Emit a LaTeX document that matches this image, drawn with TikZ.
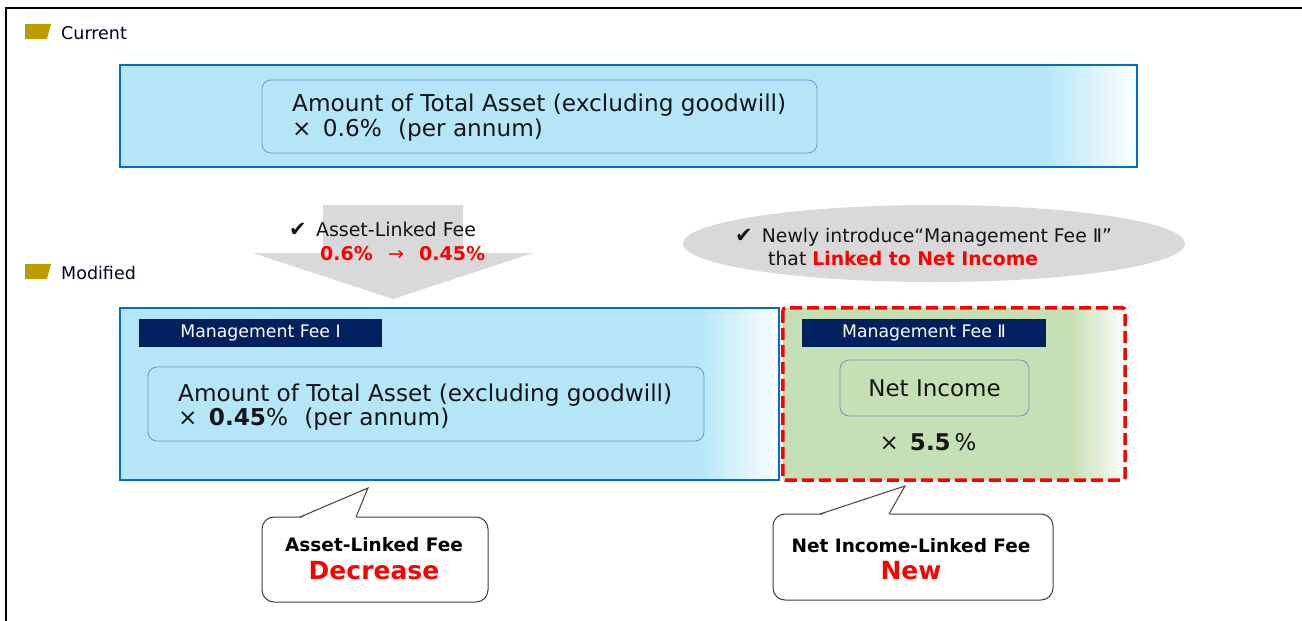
\documentclass[tikz,border=0pt]{standalone}
\usepackage{fontspec}
\setmainfont{DejaVu Sans}
\usetikzlibrary{shapes.geometric}
\definecolor{lblue}{HTML}{B4E6F8}
\definecolor{bblue}{HTML}{0070C0}
\definecolor{navy}{HTML}{002060}
\definecolor{gold}{HTML}{BF9A00}
\definecolor{lgreen}{HTML}{C5E0B4}
\definecolor{ggray}{HTML}{D9D9D9}
\definecolor{ibord}{HTML}{6E95C8}
\definecolor{tdark}{HTML}{151515}
\definecolor{cgray}{HTML}{404040}
\definecolor{fred}{HTML}{FF0000}
\newcommand{\fsz}[1]{\fontsize{#1}{#1}\selectfont}
% fade the right part of a node's area from #3 to white over width #2
\newcommand{\gradfade}[3]{%
  \foreach \i in {0,...,39}{%
    \pgfmathsetmacro{\pc}{100-\i*2.4}%
    \pgfmathsetmacro{\xa}{-#2+\i*#2/40}%
    \pgfmathsetmacro{\xb}{-#2+(\i+1)*#2/40+0.4}%
    \fill[#3!\pc!white] ([xshift=\xa pt]#1.north east) rectangle ([xshift=\xb pt]#1.south east);
  }}
\newcommand{\chk}{{\fontsize{21}{21}\selectfont ✔}}
\begin{document}
\begin{tikzpicture}[x=1pt,y=-1pt,
  txt/.style={inner sep=0pt, anchor=base west, text=tdark},
  bigtxt/.style={txt, font=\fsz{23.2}},
  midtxt/.style={txt, font=\fsz{19}},
  hdtxt/.style={txt, font=\fsz{17.5}, text=black!85!blue},
  bigbox/.style={fill=lblue, inner sep=0pt},
  border/.style={draw=bblue, line width=2.5pt},
  inbox/.style={draw=ibord, line width=0.8pt, rounded corners=9pt, inner sep=0pt},
  lbl/.style={fill=navy, text=white, inner sep=0pt, minimum width=244pt, minimum height=28pt, font=\fsz{17.3}},
  marker/.style={fill=gold},
  callout/.style={draw=cgray, line width=1pt, rounded corners=12pt, fill=white, inner sep=0pt},
  ctxt/.style={inner sep=0pt, font=\bfseries\fsz{18.5}, text=black},
  redtxt/.style={inner sep=0pt, font=\bfseries\fsz{25}, text=fred},
]
\useasboundingbox (0,0) rectangle (1302,621);
\fill[white] (0,0) rectangle (1302,621);
% outer frame
\draw[line width=2pt, black] (6,621) -- (6,8) -- (1302,8);

% headings
\fill[marker] (25,24) -- (51,24) -- (47,39) -- (25,39) -- cycle;
\node[hdtxt] (cur) at (61,39) {Current};
\fill[marker] (25,264) -- (51,264) -- (47,279) -- (25,279) -- cycle;
\node[hdtxt] (mod) at (61,279) {Modified};

% current box
\node[bigbox, minimum width=1017pt, minimum height=102pt] (curbox) at (628.5,116) {};
\gradfade{curbox}{95}{lblue}
\draw[border] (curbox.north west) rectangle (curbox.south east);
\node[inbox, fill=lblue, minimum width=555pt, minimum height=73pt] (curin) at (539.5,116.5) {};
\node[bigtxt] (ct1) at (292,111) {Amount of Total Asset (excluding goodwill)};
\node[bigtxt] (ct2) at (292,136) {× \,0.6\%\hspace{0.7em}(per annum)};

% grey down arrow
\fill[ggray] (323,205) -- (463,205) -- (463,253) -- (533,253) -- (393,299) -- (253,253) -- (323,253) -- cycle;
\node[midtxt] (at1) at (289,236) {\chk\, Asset-Linked Fee};
\node[midtxt, font=\bfseries\fsz{19}, text=fred] (at2) at (320,260) {0.6\%\hspace{0.8em}\mdseries→\hspace{0.8em}\bfseries 0.45\%};

% ellipse
\node[ellipse, fill=ggray, minimum width=502pt, minimum height=77pt, inner sep=0pt] (ell) at (934,243.5) {};
\node[midtxt, font=\fsz{18.8}] (et1) at (735,242) {\chk\, Newly introduce“Management Fee Ⅱ”};
\node[midtxt, font=\fsz{18.8}] (et2) at (768,265) {that \textcolor{fred}{\bfseries Linked to Net Income}};

% management fee I
\node[bigbox, minimum width=659pt, minimum height=172pt] (boxI) at (449.5,394) {};
\gradfade{boxI}{85}{lblue}
\draw[border] (boxI.north west) rectangle (boxI.south east);
\node[lbl, minimum width=243pt] (lblI) at (260.5,333) {Management Fee Ⅰ};
\node[inbox, fill=lblue, minimum width=556pt, minimum height=74pt] (inI) at (426,404) {};
\node[bigtxt] (it1) at (178,401) {Amount of Total Asset (excluding goodwill)};
\node[bigtxt] (it2) at (178,425) {× \,\textbf{0.45}\%\hspace{0.7em}(per annum)};

% management fee II
\node[inner sep=0pt, fill=lgreen, minimum width=342pt, minimum height=172pt] (boxII) at (954,394) {};
\gradfade{boxII}{55}{lgreen}
\draw[fred, line width=3.5pt, dash pattern=on 12pt off 5pt, rounded corners=3pt]
  (boxII.north west) rectangle (boxII.south east);
\node[lbl] (lblII) at (924,333) {Management Fee Ⅱ};
\node[inbox, fill=lgreen, minimum width=189pt, minimum height=56pt] (inII) at (934.5,388) {};
\node[inner sep=0pt, font=\fsz{23}, text=tdark] (ni) at (inII.center) {Net Income};
\node[inner sep=0pt, font=\fsz{23}, text=tdark] (pct) at (928,442) {× \,\textbf{5.5}\,\%};

% callout 1
\node[callout, minimum width=226pt, minimum height=85pt] (c1) at (375,559.5) {};
\coordinate (tip1) at (368,488);
\coordinate (b1a) at (300,517);
\coordinate (b1b) at (356,517);
\fill[white] ([yshift=-1.5pt]b1a) -- (tip1) -- ([yshift=-1.5pt]b1b) -- cycle;
\draw[cgray, line width=1pt] (b1a) -- (tip1) -- (b1b);
\node[ctxt] (c1t) at (374,545) {Asset-Linked Fee};
\node[redtxt] (c1r) at (374,571) {Decrease};

% callout 2
\node[callout, minimum width=280pt, minimum height=86pt] (c2) at (913,557) {};
\coordinate (tip2) at (905,486);
\coordinate (b2a) at (820,514);
\coordinate (b2b) at (889,514);
\fill[white] ([yshift=-1.5pt]b2a) -- (tip2) -- ([yshift=-1.5pt]b2b) -- cycle;
\draw[cgray, line width=1pt] (b2a) -- (tip2) -- (b2b);
\node[ctxt] (c2t) at (911,546) {Net Income-Linked Fee};
\node[redtxt] (c2r) at (911,571) {New};
\end{tikzpicture}
\end{document}
